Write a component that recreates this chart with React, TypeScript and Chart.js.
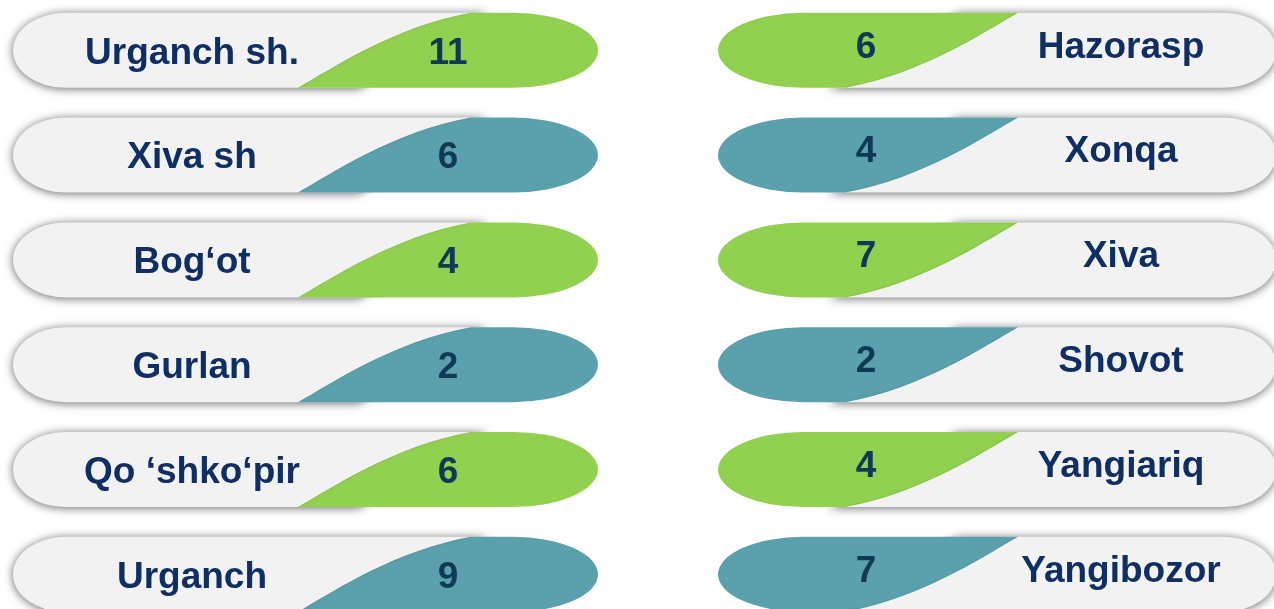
import React, { useEffect, useRef } from "react";
import Chart from "chart.js/auto";

const leftLabels = ["Urganch sh.", "Xiva sh", "Bog‘ot", "Gurlan", "Qo ‘shko‘pir", "Urganch"];
const leftValues = [11, 6, 4, 2, 6, 9];
const rightLabels = ["Hazorasp", "Xonqa", "Xiva", "Shovot", "Yangiariq", "Yangibozor"];
const rightValues = [6, 4, 7, 2, 4, 7];

const GREEN = "#92d050";
const TEAL = "#5aa0ad";
const GRAY = "#f2f2f2";
const LABEL_COLOR = "#0f2e62";
const NUMBER_COLOR = "#0f3a55";
const FONT = "bold 37px 'Liberation Sans', Arial, sans-serif";

// geometry (pixels) of one pill, local coords: x from green end (0) to gray end (W)
const PILL_H = 75;
const COLS = [
  { halfW: 292.5, rotate: true, labelDx: 179, numDx: 435, dy: 0 },
  { halfW: 279, rotate: false, labelDx: 403, numDx: 148, dy: -6 },
];

function greenPath(ctx: CanvasRenderingContext2D, H: number) {
  const rxe = 85;
  ctx.beginPath();
  ctx.moveTo(300, 0);
  ctx.lineTo(rxe, 0);
  ctx.ellipse(rxe, H / 2, rxe, H / 2, 0, -Math.PI / 2, Math.PI / 2, true);
  ctx.lineTo(127, H);
  ctx.bezierCurveTo(205, H - 14, 268, 18, 300, 0);
  ctx.closePath();
}

function curvePath(ctx: CanvasRenderingContext2D, H: number) {
  ctx.beginPath();
  ctx.moveTo(127, H);
  ctx.bezierCurveTo(205, H - 14, 268, 18, 300, 0);
}

function grayPath(ctx: CanvasRenderingContext2D, W: number, H: number) {
  const rxg = 52;
  ctx.beginPath();
  ctx.moveTo(240, 0);
  ctx.lineTo(W - rxg, 0);
  ctx.ellipse(W - rxg, H / 2, rxg, H / 2, 0, -Math.PI / 2, Math.PI / 2, false);
  ctx.lineTo(110, H);
  ctx.closePath();
}

const pillPlugin = {
  id: "pills",
  afterDatasetsDraw(chart: any) {
    const ctx: CanvasRenderingContext2D = chart.ctx;
    chart.data.datasets.forEach((ds: any, di: number) => {
      const meta = chart.getDatasetMeta(di);
      const col = COLS[di];
      const W = col.halfW * 2;
      const H = PILL_H;
      meta.data.forEach((pt: any, i: number) => {
        const cx = pt.x;
        const cy = pt.y;
        const L = cx - col.halfW;
        const T = cy - H / 2;
        const color = i % 2 === 0 ? GREEN : TEAL;
        ctx.save();
        if (col.rotate) {
          ctx.translate(L + W, T + H);
          ctx.rotate(Math.PI);
        } else {
          ctx.translate(L, T);
        }
        // gray pill with shadow
        ctx.save();
        ctx.shadowColor = "rgba(0,0,0,0.6)";
        ctx.shadowBlur = 10;
        ctx.shadowOffsetX = 0;
        ctx.shadowOffsetY = 1;
        grayPath(ctx, W, H);
        ctx.fillStyle = GRAY;
        ctx.fill();
        ctx.restore();
        // colored part
        greenPath(ctx, H);
        ctx.fillStyle = color;
        ctx.fill();
        // soft inner shadow along curve
        ctx.save();
        greenPath(ctx, H);
        ctx.clip();
        ctx.shadowColor = "rgba(0,0,0,0.45)";
        ctx.shadowBlur = 7;
        curvePath(ctx, H);
        ctx.strokeStyle = "rgba(0,0,0,0.08)";
        ctx.lineWidth = 1.5;
        ctx.stroke();
        ctx.restore();
        ctx.restore();

        // texts
        const labels = di === 0 ? leftLabels : rightLabels;
        ctx.save();
        ctx.font = FONT;
        ctx.textAlign = "center";
        ctx.textBaseline = "alphabetic";
        const base = cy + 13.3 + col.dy;
        ctx.fillStyle = LABEL_COLOR;
        ctx.fillText(labels[i], L + col.labelDx, base);
        ctx.fillStyle = NUMBER_COLOR;
        ctx.fillText(String(ds.values[i]), L + col.numDx, base);
        ctx.restore();
      });
    });
  },
};

export default function App() {
  const ref = useRef<HTMLCanvasElement | null>(null);
  useEffect(() => {
    if (!ref.current) return;
    const rowStep = 104.8;
    const firstRow = 50.3;
    const chart = new Chart(ref.current, {
      type: "scatter",
      data: {
        datasets: [
          {
            label: "left",
            data: leftValues.map((_, i) => ({ x: 0, y: i })),
            values: leftValues,
            pointRadius: 0,
          } as any,
          {
            label: "right",
            data: rightValues.map((_, i) => ({ x: 1, y: i })),
            values: rightValues,
            pointRadius: 0,
          } as any,
        ],
      },
      options: {
        animation: false,
        responsive: false,
        layout: { padding: 0 },
        events: [],
        plugins: { legend: { display: false }, tooltip: { enabled: false } },
        scales: {
          x: { type: "linear", display: false, min: -305.5 / 691.5, max: (1274 - 305.5) / 691.5 },
          y: {
            type: "linear",
            display: false,
            reverse: true,
            min: -firstRow / rowStep,
            max: (609 - firstRow) / rowStep,
          },
        },
      },
      plugins: [pillPlugin],
    });
    return () => chart.destroy();
  }, []);
  return (
    <div style={{ position: "fixed", left: 0, top: 0, width: 1274, height: 609, background: "#fff" }}>
      <canvas ref={ref} width={1274} height={609} />
    </div>
  );
}
